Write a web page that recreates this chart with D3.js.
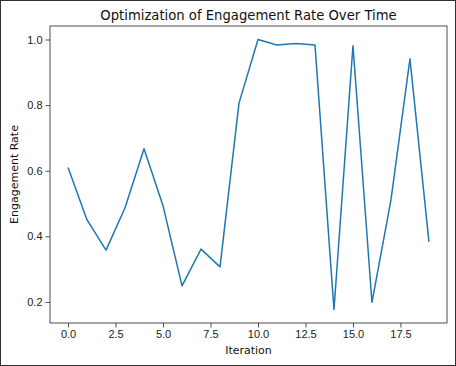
<!DOCTYPE html>
<html>
<head>
<meta charset="utf-8">
<script src="https://cdn.jsdelivr.net/npm/d3@7"></script>
<style>
  body { margin: 0; background: #fff; }
  svg { display: block; font-family: "DejaVu Sans", sans-serif; }
</style>
</head>
<body>
<div id="chart"></div>
<script>
// data
var iterations = d3.range(20);
var engagement = [0.610, 0.450, 0.358, 0.487, 0.667, 0.493, 0.249, 0.361, 0.307, 0.806,
                  1.000, 0.983, 0.988, 0.983, 0.177, 0.981, 0.199, 0.511, 0.941, 0.383];
var xTicks = [0, 2.5, 5, 7.5, 10, 12.5, 15, 17.5];
var yTicks = [0.2, 0.4, 0.6, 0.8, 1.0];

var width = 456, height = 366;
var margin = {left: 50, right: 9, top: 26, bottom: 43};

var svg = d3.select('#chart')
    .append('svg')
    .attr('width', width)
    .attr('height', height);

// figure frame
svg.append('rect')
    .attr('x', 0.5).attr('y', 0.5)
    .attr('width', width - 1).attr('height', height - 1)
    .attr('fill', 'white')
    .attr('stroke', '#333');

var yMin = d3.min(engagement), yMax = d3.max(engagement);
var yPad = (yMax - yMin) * 0.05;

var x = d3.scaleLinear()
    .domain([-0.95, 19.95])
    .range([margin.left, width - margin.right]);

var y = d3.scaleLinear()
    .domain([yMin - yPad, yMax + yPad])
    .range([height - margin.bottom, margin.top]);

var xAxis = svg.append('g')
    .attr('transform', 'translate(0,' + (height - margin.bottom) + ')')
    .call(d3.axisBottom(x).tickValues(xTicks).tickFormat(d3.format('.1f')).tickSizeOuter(0).tickSize(4.5).tickPadding(3));

var yAxis = svg.append('g')
    .attr('transform', 'translate(' + margin.left + ',0)')
    .call(d3.axisLeft(y).tickValues(yTicks).tickFormat(d3.format('.1f')).tickSizeOuter(0).tickSize(4.5).tickPadding(3));

[xAxis, yAxis].forEach(function(a) {
    a.select('.domain').remove();
    a.selectAll('text').style('font-size', '11px').attr('fill', '#222');
    a.selectAll('line').attr('stroke', '#222').attr('stroke-width', 0.8);
});

// axes box
svg.append('rect')
    .attr('x', margin.left).attr('y', margin.top)
    .attr('width', width - margin.left - margin.right)
    .attr('height', height - margin.top - margin.bottom)
    .attr('fill', 'none')
    .attr('stroke', '#222')
    .attr('stroke-width', 0.8);

var line = d3.line()
    .x((d, i) => x(iterations[i]))
    .y(d => y(d));

svg.append('path')
    .datum(engagement)
    .attr('d', line)
    .attr('fill', 'none')
    .attr('stroke', '#1f77b4')
    .attr('stroke-width', 1.5)
    .attr('stroke-linejoin', 'round');

svg.append('text')
    .attr('x', (margin.left + width - margin.right) / 2)
    .attr('y', 20)
    .attr('text-anchor', 'middle')
    .style('font-size', '13.2px')
    .attr('fill', '#111')
    .text('Optimization of Engagement Rate Over Time');

svg.append('text')
    .attr('x', (margin.left + width - margin.right) / 2)
    .attr('y', 354)
    .attr('text-anchor', 'middle')
    .style('font-size', '11px')
    .attr('fill', '#111')
    .text('Iteration');

svg.append('text')
    .attr('transform', 'translate(18,' + ((margin.top + height - margin.bottom) / 2) + ') rotate(-90)')
    .attr('text-anchor', 'middle')
    .style('font-size', '11px')
    .attr('fill', '#111')
    .text('Engagement Rate');
</script>
</body>
</html>
